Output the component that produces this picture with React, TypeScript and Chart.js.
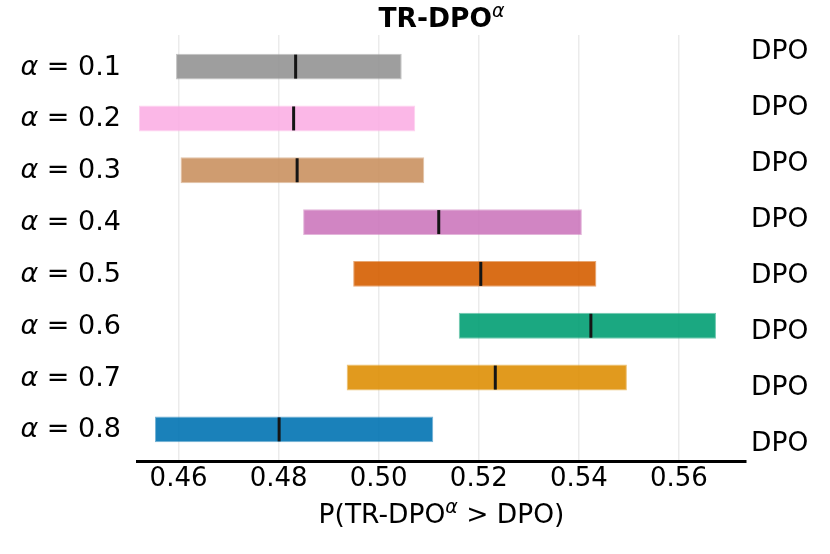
import React, { useEffect, useRef } from "react";
import { Chart, registerables } from "chart.js";

Chart.register(...registerables);

// alpha values of each TR-DPO run (top to bottom)
const alphas = ["0.1", "0.2", "0.3", "0.4", "0.5", "0.6", "0.7", "0.8"];
// interval ends and medians of P(TR-DPO^alpha > DPO)
const lowValues = [0.4595, 0.4521, 0.4604, 0.4849, 0.4949, 0.516, 0.4936, 0.4553];
const highValues = [0.5046, 0.5073, 0.5091, 0.5406, 0.5435, 0.5674, 0.5496, 0.5109];
const medianValues = [0.4834, 0.483, 0.4837, 0.512, 0.5204, 0.5424, 0.5233, 0.4801];
// labels on the right side
const baselineLabels = ["DPO", "DPO", "DPO", "DPO", "DPO", "DPO", "DPO", "DPO"];
const xTicks = [0.46, 0.48, 0.5, 0.52, 0.54, 0.56];

const barColors = [
  [148, 148, 148],
  [251, 175, 228],
  [202, 145, 97],
  [204, 120, 188],
  [213, 94, 0],
  [2, 158, 115],
  [222, 143, 5],
  [1, 115, 178],
];

const FONT = '"DejaVu Sans", sans-serif';
const rgba = (c: number[], a: number) => `rgba(${c[0]},${c[1]},${c[2]},${a})`;

type Run = { text: string; font: string; dy?: number };

function drawRuns(ctx: CanvasRenderingContext2D, runs: Run[], x: number, y: number, align: "center" | "right") {
  const widths = runs.map((r) => {
    ctx.font = r.font;
    return ctx.measureText(r.text).width;
  });
  const total = widths.reduce((a, b) => a + b, 0);
  let cx = align === "center" ? x - total / 2 : x - total;
  ctx.textAlign = "left";
  runs.forEach((r, i) => {
    ctx.font = r.font;
    ctx.fillText(r.text, cx, y + (r.dy || 0));
    cx += widths[i];
  });
}

const textPlugin = {
  id: "texts",
  afterDraw(chart: any) {
    const { ctx, chartArea, scales } = chart;
    const cx = (chartArea.left + chartArea.right) / 2;
    ctx.save();
    ctx.fillStyle = "#000";
    ctx.textBaseline = "middle";
    drawRuns(
      ctx,
      [
        { text: "TR-DPO", font: `bold 26.5px ${FONT}` },
        { text: "α", font: `italic 19px ${FONT}`, dy: -8 },
      ],
      cx,
      20,
      "center"
    );
    drawRuns(
      ctx,
      [
        { text: "P(TR-DPO", font: `26.5px ${FONT}` },
        { text: "α", font: `italic 19px ${FONT}`, dy: -8 },
        { text: " > DPO)", font: `26.5px ${FONT}` },
      ],
      cx,
      516,
      "center"
    );
    alphas.forEach((a, i) => {
      const y = scales.y.getPixelForValue(i);
      drawRuns(
        ctx,
        [
          { text: "α", font: `italic 27px ${FONT}` },
          { text: ` = ${a}`, font: `27px ${FONT}` },
        ],
        121,
        y + 1,
        "right"
      );
    });
    ctx.restore();
  },
};

function App() {
  const chartRef = useRef<HTMLCanvasElement>(null);

  useEffect(() => {
    const canvas = chartRef.current;
    if (!canvas) {
      return;
    }

    const chart = new Chart(canvas, {
      type: "bar",
      data: {
        datasets: [
          {
            type: "scatter",
            data: medianValues.map((m, i) => ({ x: m, y: i })),
            pointStyle: "line",
            rotation: 90,
            pointRadius: 12,
            pointHoverRadius: 12,
            borderColor: "#151515",
            backgroundColor: "#151515",
            borderWidth: 3,
            order: 0,
          } as any,
          {
            type: "bar",
            data: alphas.map((_, i) => ({ y: i, x: [lowValues[i], highValues[i]] })),
            backgroundColor: barColors.map((c) => rgba(c, 0.9)),
            borderColor: barColors.map((c) => rgba(c, 0.55)),
            borderWidth: 1,
            borderSkipped: false,
            barPercentage: 0.5,
            categoryPercentage: 1,
            order: 1,
          } as any,
        ],
      },
      options: {
        indexAxis: "y",
        animation: false,
        responsive: true,
        maintainAspectRatio: false,
        layout: { padding: { top: 35, left: 0, right: 0, bottom: 0 } },
        plugins: {
          legend: { display: false },
          tooltip: { enabled: false },
          title: { display: false },
        },
        scales: {
          x: {
            type: "linear",
            position: "bottom",
            offset: false,
            min: 0.4517,
            max: 0.5734,
            afterBuildTicks: (s: any) => {
              s.ticks = xTicks.map((v) => ({ value: v }));
            },
            ticks: {
              font: { family: FONT, size: 26 },
              color: "#000",
              padding: 3,
              maxRotation: 0,
              autoSkip: false,
              callback: (v: any) => Number(v).toFixed(2),
            },
            grid: { color: "rgba(0,0,0,0.08)", lineWidth: 1.5, drawTicks: false, offset: false },
            border: { display: true, color: "#000", width: 3 },
            afterFit: (s: any) => {
              s.height = 93;
            },
          },
          y: {
            type: "linear",
            position: "left",
            offset: false,
            min: -0.61,
            max: 7.61,
            reverse: true,
            afterBuildTicks: (s: any) => {
              s.ticks = alphas.map((_, i) => ({ value: i }));
            },
            ticks: { display: false },
            grid: { display: false, drawTicks: false, offset: false },
            border: { display: false },
            afterFit: (s: any) => {
              s.width = 137;
            },
          },
          y2: {
            type: "linear",
            position: "right",
            offset: false,
            min: -0.3,
            max: 7.3,
            reverse: true,
            afterBuildTicks: (s: any) => {
              s.ticks = baselineLabels.map((_, i) => ({ value: i }));
            },
            ticks: {
              font: { family: FONT, size: 26.5 },
              color: "#000",
              padding: 5,
              autoSkip: false,
              callback: (v: any) => baselineLabels[v] ?? "",
            },
            grid: { display: false, drawTicks: false, offset: false },
            border: { display: false },
            afterFit: (s: any) => {
              s.width = 84;
            },
          },
        },
      } as any,
      plugins: [textPlugin],
    });
    return () => {
      chart.destroy();
    };
  }, []);

  return (
    <div style={{ position: "absolute", left: 0, top: 0, width: 830, height: 554, background: "#fff" }}>
      <canvas ref={chartRef} />
    </div>
  );
}

export default App;
